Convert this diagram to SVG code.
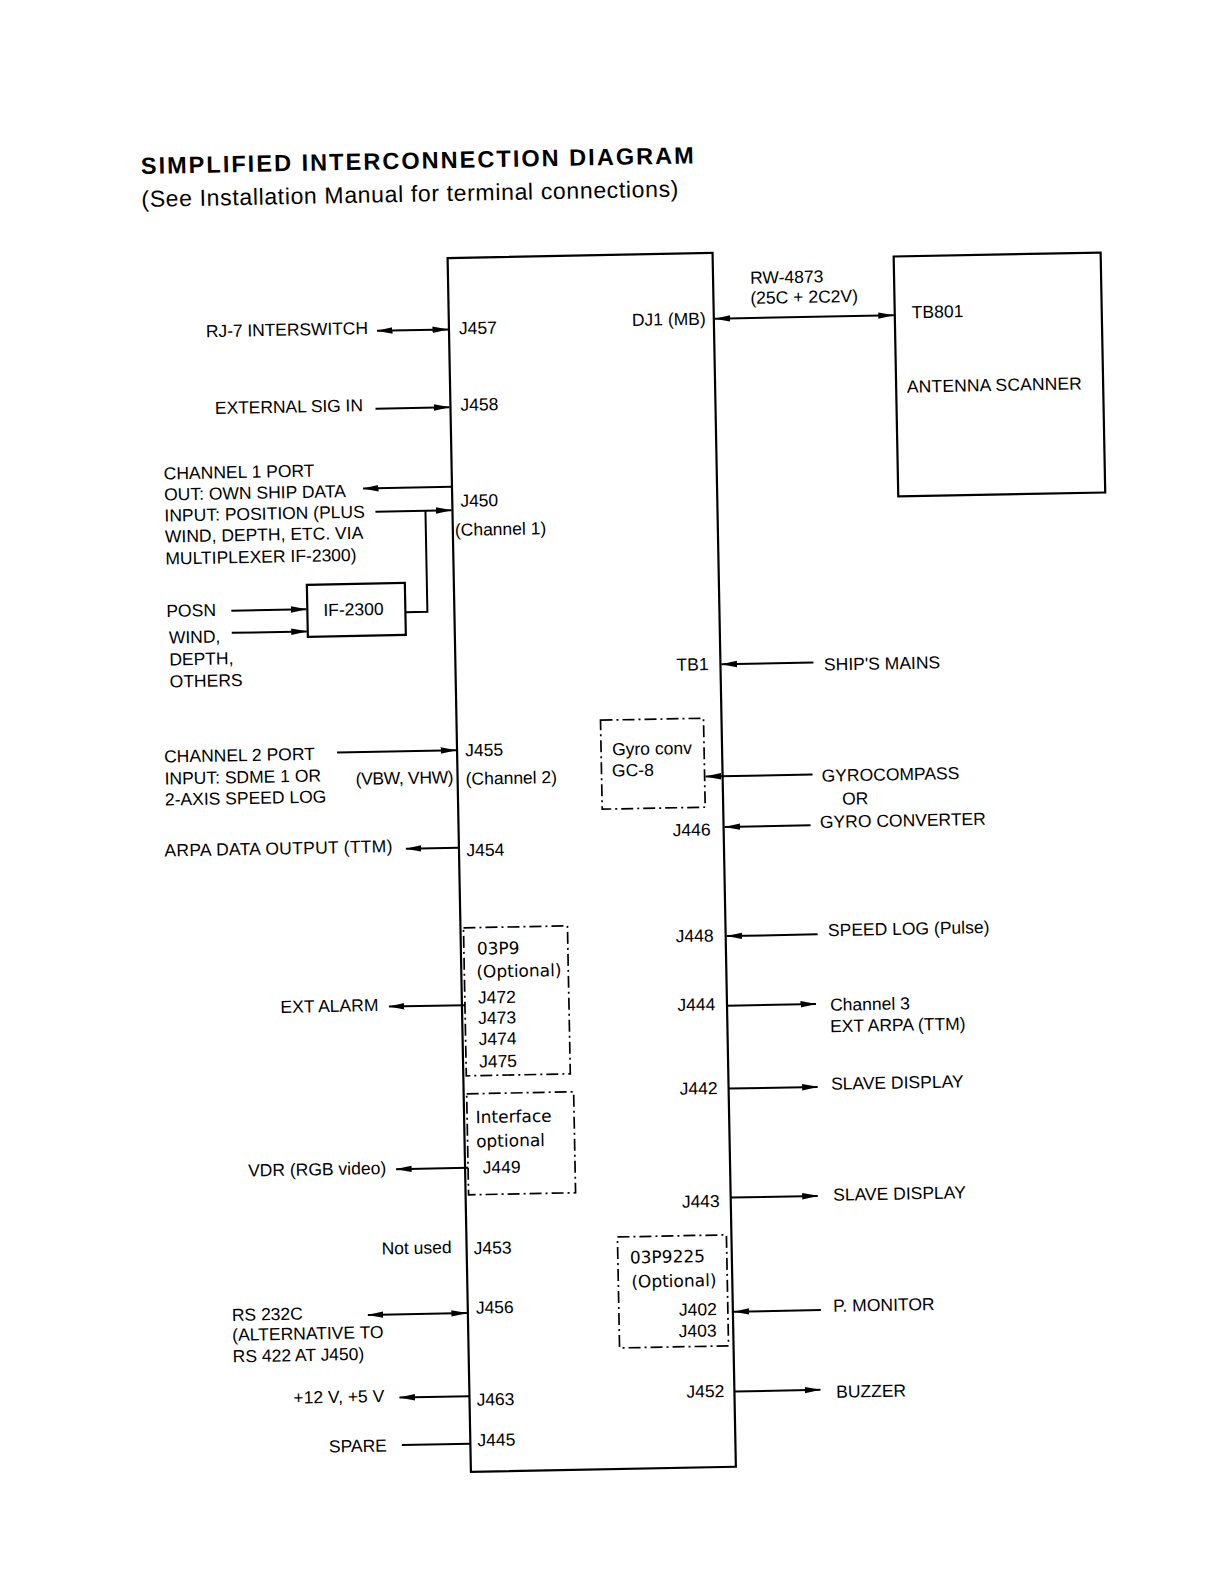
<svg xmlns="http://www.w3.org/2000/svg" width="1224" height="1584" viewBox="0 0 1224 1584">
<style>
.t{font-family:"Liberation Sans",Arial,sans-serif;font-size:17.5px;fill:#000}
.m{font-family:"DejaVu Sans",sans-serif;font-size:17px;fill:#000}
.ttl{font-family:"Liberation Sans",Arial,sans-serif;font-weight:bold;font-size:23.5px;fill:#000}
.sub{font-family:"Liberation Sans",Arial,sans-serif;font-size:23px;fill:#000}
.box{fill:none;stroke:#000;stroke-width:2.2}
.dd{fill:none;stroke:#000;stroke-width:1.7;stroke-dasharray:12 4 2 4}
.ln{fill:none;stroke:#000;stroke-width:2}
.ar{marker-end:url(#a)}
.ar2{marker-start:url(#a);marker-end:url(#a)}
</style>
<defs>
<marker id="a" viewBox="0 0 16 8" refX="15.5" refY="4" markerWidth="16" markerHeight="8" markerUnits="userSpaceOnUse" orient="auto-start-reverse">
<path d="M0,0.8 L16,4 L0,7.2 z" fill="#000"/>
</marker>
</defs>
<rect width="1224" height="1584" fill="#fff"/>
<g transform="rotate(-1.1 612 850)">
<g id="title">
<text class="ttl" x="154" y="165" textLength="553" lengthAdjust="spacing">SIMPLIFIED INTERCONNECTION DIAGRAM</text>
<text class="sub" x="154" y="198" textLength="537" lengthAdjust="spacing">(See Installation Manual for terminal connections)</text>
</g>

<g id="main-unit">
<rect class="box" x="459" y="255" width="265" height="1214"/>
<text class="t" x="469" y="331.5">J457</text>
<text class="t" x="469" y="408">J458</text>
<text class="t" x="467" y="504">J450</text>
<text class="t" x="461" y="533">(Channel 1)</text>
<text class="t" x="467" y="753.5">J455</text>
<text class="t" x="467" y="782">(Channel 2)</text>
<text class="t" x="466.5" y="853.5">J454</text>
<text class="t" x="466" y="1251.5">J453</text>
<text class="t" x="467" y="1311">J456</text>
<text class="t" x="466" y="1403">J463</text>
<text class="t" x="466" y="1443.5">J445</text>
<text class="t" x="642" y="326.5">DJ1 (MB)</text>
<text class="t" x="680" y="672">TB1</text>
<text class="t" x="673" y="837.4">J446</text>
<text class="t" x="674" y="943.4">J448</text>
<text class="t" x="674.5" y="1012.2">J444</text>
<text class="t" x="675" y="1096">J442</text>
<text class="t" x="675" y="1209">J443</text>
<text class="t" x="676" y="1399">J452</text>
</g>

<g id="opt-03P9">
<rect class="dd" x="462" y="925" width="104" height="148"/>
<text class="m" x="475" y="952">03P9</text>
<text class="m" x="474" y="975">(Optional)</text>
<text class="t" x="475" y="1001">J472</text>
<text class="t" x="475" y="1021.5">J473</text>
<text class="t" x="475" y="1042.5">J474</text>
<text class="t" x="475" y="1065">J475</text>
</g>

<g id="opt-interface">
<rect class="dd" x="462" y="1091" width="107" height="101"/>
<text class="m" x="470.5" y="1120.5">Interface</text>
<text class="m" x="470.5" y="1144.5">optional</text>
<text class="t" x="476.5" y="1171">J449</text>
</g>

<g id="gyro-conv">
<rect class="dd" x="603" y="720" width="103" height="89"/>
<text class="t" x="614" y="755.4">Gyro conv</text>
<text class="t" x="613.5" y="776.6">GC-8</text>
</g>

<g id="opt-03P9225">
<rect class="dd" x="610" y="1237" width="109" height="111"/>
<text class="m" x="622" y="1263.7">03P9225</text>
<text class="m" x="623" y="1288">(Optional)</text>
<text class="t" x="670" y="1317">J402</text>
<text class="t" x="669.5" y="1338.4">J403</text>
</g>

<g id="antenna-scanner">
<rect class="box" x="905" y="262" width="207" height="240"/>
<text class="t" x="922" y="324">TB801</text>
<text class="t" x="915.7" y="398.5" textLength="175" lengthAdjust="spacing">ANTENNA SCANNER</text>
</g>

<g id="if-2300">
<rect class="box" x="312" y="579" width="98" height="52"/>
<text class="t" x="328" y="610.5">IF-2300</text>
</g>

<g id="left-labels">
<text class="t" x="216" y="329.5" textLength="162" lengthAdjust="spacing">RJ-7 INTERSWITCH</text>
<text class="t" x="223.5" y="406.5" textLength="148" lengthAdjust="spacing">EXTERNAL SIG IN</text>
<text class="t" x="171" y="471">CHANNEL 1 PORT</text>
<text class="t" x="171" y="492">OUT: OWN SHIP DATA</text>
<text class="t" x="171" y="513">INPUT:  POSITION (PLUS</text>
<text class="t" x="171" y="534">WIND, DEPTH,  ETC. VIA</text>
<text class="t" x="171" y="556">MULTIPLEXER IF-2300)</text>
<text class="t" x="171" y="608.5">POSN</text>
<text class="t" x="173" y="635">WIND,</text>
<text class="t" x="173" y="657">DEPTH,</text>
<text class="t" x="173" y="679">OTHERS</text>
<text class="t" x="166" y="754">CHANNEL 2 PORT</text>
<text class="t" x="166" y="776">INPUT: SDME 1 OR</text>
<text class="t" x="166" y="797">2-AXIS SPEED LOG</text>
<text class="t" x="357" y="780" textLength="98" lengthAdjust="spacing">(VBW, VHW)</text>
<text class="t" x="164.5" y="848" textLength="228" lengthAdjust="spacing">ARPA DATA OUTPUT  (TTM)</text>
<text class="t" x="277.5" y="1006.5">EXT ALARM</text>
<text class="t" x="242" y="1169.5">VDR (RGB video)</text>
<text class="t" x="374" y="1250">Not used</text>
<text class="t" x="223" y="1313.5">RS 232C</text>
<text class="t" x="223" y="1333.5">(ALTERNATIVE TO</text>
<text class="t" x="223" y="1355">RS 422 AT J450)</text>
<text class="t" x="283" y="1397.5">+12 V, +5 V</text>
<text class="t" x="317.5" y="1447">SPARE</text>
</g>

<g id="right-labels">
<text class="t" x="761" y="286.5">RW-4873</text>
<text class="t" x="761" y="306.7">(25C + 2C2V)</text>
<text class="t" x="827.5" y="674.7">SHIP'S MAINS</text>
<text class="t" x="823" y="785.7">GYROCOMPASS</text>
<text class="t" x="843" y="809.3">OR</text>
<text class="t" x="820.4" y="832">GYRO CONVERTER</text>
<text class="t" x="826.4" y="940.3">SPEED LOG (Pulse)</text>
<text class="t" x="827" y="1015">Channel 3</text>
<text class="t" x="826.6" y="1036.3">EXT ARPA (TTM)</text>
<text class="t" x="826.5" y="1094">SLAVE DISPLAY</text>
<text class="t" x="826.5" y="1205">SLAVE DISPLAY</text>
<text class="t" x="824.3" y="1316">P. MONITOR</text>
<text class="t" x="825.7" y="1402">BUZZER</text>
</g>

<g id="connectors">
<line class="ln ar2" x1="387" y1="326.4" x2="458" y2="326.4"/>
<line class="ln ar" x1="384" y1="404.2" x2="458" y2="404.2"/>
<line class="ln ar" x1="459" y1="483.8" x2="370" y2="483.8"/>
<line class="ln ar" x1="382" y1="507.2" x2="458" y2="507.2"/>
<path class="ln" d="M410,608.3 H432 V507.2"/>
<line class="ln ar" x1="236" y1="603.4" x2="311" y2="603.4"/>
<line class="ln ar" x1="236" y1="625.6" x2="311" y2="625.6"/>
<line class="ln ar" x1="339" y1="747.2" x2="458" y2="747.2"/>
<line class="ln ar" x1="459" y1="844.8" x2="406" y2="844.8"/>
<line class="ln ar" x1="462" y1="1002.3" x2="386" y2="1002.3"/>
<line class="ln ar" x1="462" y1="1165" x2="390" y2="1165"/>
<line class="ln ar2" x1="359" y1="1310.2" x2="458" y2="1310.2"/>
<line class="ln ar" x1="459" y1="1393.3" x2="389" y2="1393.3"/>
<line class="ln" x1="390.5" y1="1440.8" x2="459" y2="1440.8"/>
<line class="ln ar2" x1="725" y1="320.8" x2="904" y2="320.8"/>
<line class="ln ar" x1="817" y1="666.4" x2="725" y2="666.4"/>
<line class="ln ar" x1="814" y1="778.4" x2="707" y2="778.4"/>
<line class="ln ar" x1="811" y1="829.1" x2="725" y2="829.1"/>
<line class="ln ar" x1="816" y1="938.3" x2="725" y2="938.3"/>
<line class="ln ar" x1="724" y1="1007.9" x2="813" y2="1007.9"/>
<line class="ln ar" x1="724" y1="1090.8" x2="813" y2="1090.8"/>
<line class="ln ar" x1="724" y1="1199.8" x2="811" y2="1199.8"/>
<line class="ln ar" x1="812" y1="1314" x2="725" y2="1314"/>
<line class="ln ar" x1="724" y1="1393.7" x2="810" y2="1393.7"/>
</g>
</g>
</svg>
